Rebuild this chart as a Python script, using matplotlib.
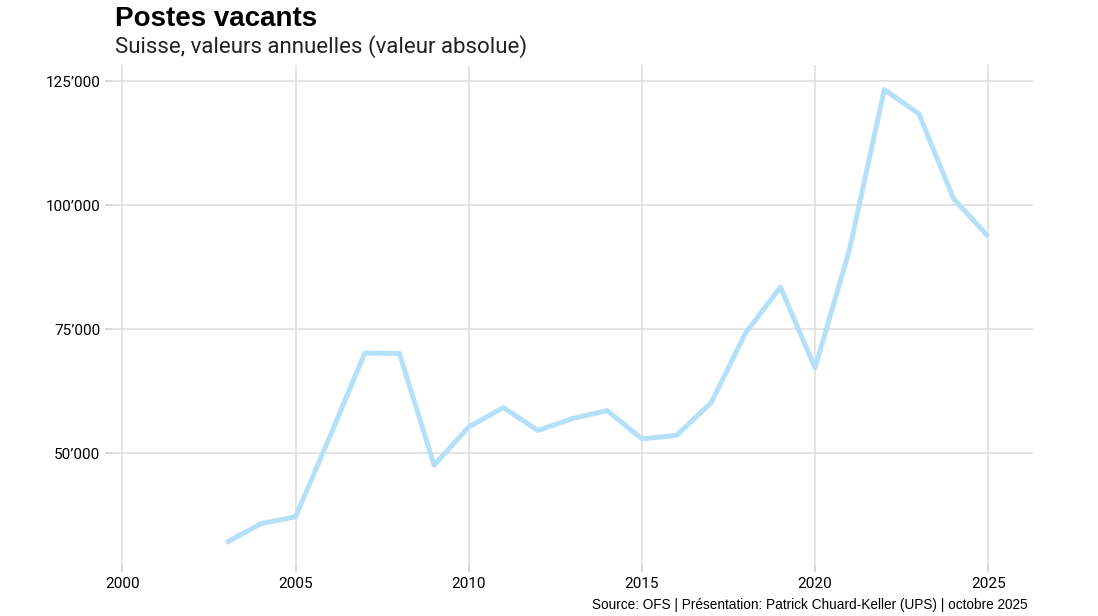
import matplotlib.pyplot as plt
from matplotlib.ticker import FuncFormatter

years = [2003, 2004, 2005, 2006, 2007, 2008, 2009, 2010, 2011, 2012, 2013, 2014,
         2015, 2016, 2017, 2018, 2019, 2020, 2021, 2022, 2023, 2024, 2025]
postes = [32000, 35800, 37200, 53500, 70200, 70100, 47600, 55300, 59200, 54600,
          57000, 58600, 52900, 53600, 60200, 74300, 83500, 67200, 91200, 123300,
          118400, 101300, 93700]

x_ticks = [2000, 2005, 2010, 2015, 2020, 2025]
y_ticks = [50000, 75000, 100000, 125000]

fig = plt.figure(figsize=(10.98, 6.16), dpi=100)
ax = fig.add_axes([0.102, 0.083, 0.839, 0.811])

ax.plot(years, postes, color='#b5e0f9', linewidth=3.6, solid_capstyle='butt',
        solid_joinstyle='round', zorder=3)

ax.set_xlim(1999.7, 2026.3)
ax.set_ylim(27500, 128200)
ax.set_xticks(x_ticks)
ax.set_yticks(y_ticks)
ax.yaxis.set_major_formatter(FuncFormatter(lambda v, p: f"{int(v):,}".replace(',', '\u2019')))

ax.grid(True, color='#dedede', linewidth=1.1)
ax.set_axisbelow(True)
for s in ax.spines.values():
    s.set_visible(False)
ax.tick_params(axis='both', colors='#cccccc', length=5, width=1.1,
               labelcolor='black', labelsize=11)
for lab in ax.get_xticklabels() + ax.get_yticklabels():
    lab.set_family('Roboto')

fig.text(0.105, 0.957, 'Postes vacants', fontsize=20, fontweight='bold',
         family='Liberation Sans', ha='left', va='baseline')
fig.text(0.105, 0.914, 'Suisse, valeurs annuelles (valeur absolue)', fontsize=16,
         family='Roboto', ha='left', va='baseline', color='#222222')
fig.text(0.936, 0.012, 'Source: OFS | Présentation: Patrick Chuard-Keller (UPS) | octobre 2025',
         fontsize=9.8, family='Liberation Sans', ha='right', va='baseline')

fig.savefig('out.png', dpi=100)
